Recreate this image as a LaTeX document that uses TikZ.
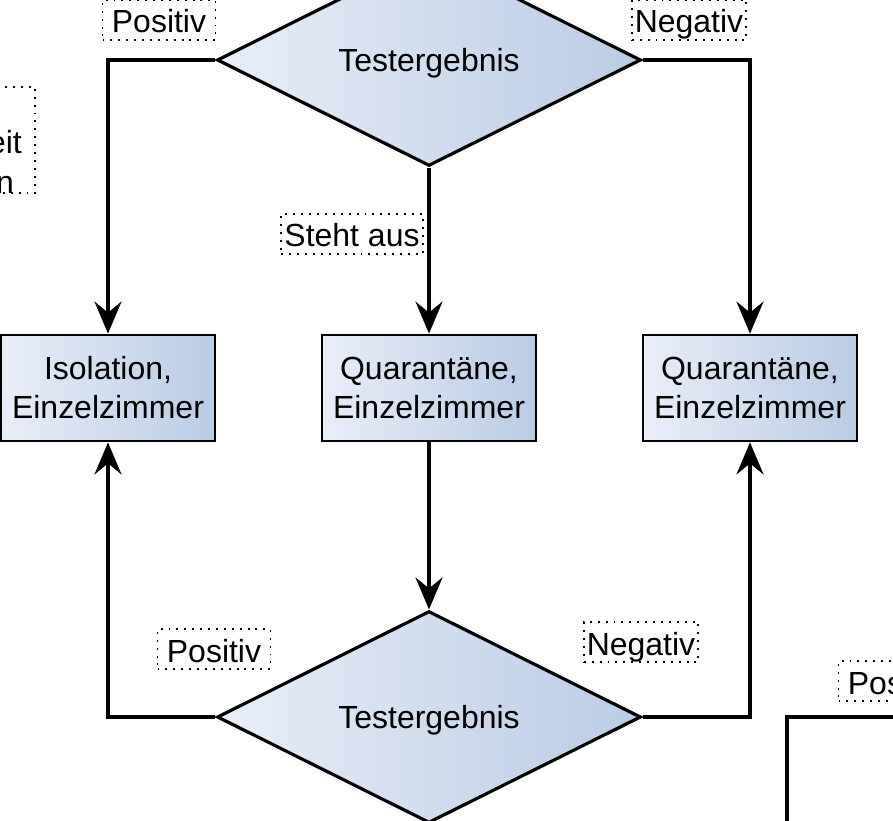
\documentclass[tikz,border=0pt]{standalone}
\usepackage{fontspec}
\setmainfont{Liberation Sans}
\usetikzlibrary{shapes.geometric,arrows.meta}
\definecolor{fillL}{HTML}{E9EEF8}
\definecolor{fillR}{HTML}{B9CBE5}
\begin{document}
\begin{tikzpicture}[x=0.02cm,y=-0.02cm,
  font=\fontsize{18.2pt}{22.2pt}\selectfont,
  stepbox/.style={draw,line width=1.6pt,left color=fillL,right color=fillR,minimum width=4.28cm,minimum height=2.12cm,inner sep=0pt,align=center},
  decision/.style={diamond,draw,line width=1.8pt,left color=fillL,right color=fillR,minimum width=8.48cm,minimum height=4.24cm,inner sep=0pt,text depth=0pt},
  dotbox/.style={draw,line width=1.1pt,dash pattern=on 1.1pt off 3.4pt},
  edgelabel/.style={dotbox,fill=white,inner xsep=0.06cm,inner ysep=0.09cm,text height=0.57cm,text depth=0.05cm,minimum width=2.26cm},
  flow/.style={line width=1.9pt,-{Stealth[length=0.64cm,width=0.54cm,inset=0.22cm]}}]
\useasboundingbox (0,0) rectangle (893,821);
\node[decision] (test1) at (429,60) {Testergebnis};
\node[stepbox] (iso) at (108,388) {Isolation,\\Einzelzimmer};
\node[stepbox] (quar1) at (429,388) {Quarantäne,\\Einzelzimmer};
\node[stepbox] (quar2) at (750,388) {Quarantäne,\\Einzelzimmer};
\node[decision] (test2) at (429,717) {Testergebnis};
\coordinate (offr) at (980,717);
\coordinate (offd) at (787,900);
\draw[flow] (test1.west) -| (iso.north);
\draw[flow] (test1.east) -| (quar2.north);
\draw[flow] (test1.south) -- (quar1.north);
\draw[flow] (quar1.south) -- (test2.north);
\draw[flow] (test2.west) -| (iso.south);
\draw[flow] (test2.east) -| (quar2.south);
\draw[flow] (offr) -| (offd);
\node[edgelabel] (pos1) at (159,20) {Positiv};
\node[edgelabel] (neg1) at (689,20) {Negativ};
\node[edgelabel] (wait1) at (352,234) {Steht aus};
\node[edgelabel] (pos2) at (214,649) {Positiv};
\node[edgelabel] (neg2) at (641,642) {Negativ};
\node[edgelabel] (pos3) at (895,681) {Positiv};
\draw[dotbox] (-160,87) rectangle (35,193);
\node[align=center,inner sep=0pt,font=\fontsize{18.2pt}{22.8pt}\selectfont] (hint) at (5,162) {eit\\n};
\end{tikzpicture}
\end{document}
